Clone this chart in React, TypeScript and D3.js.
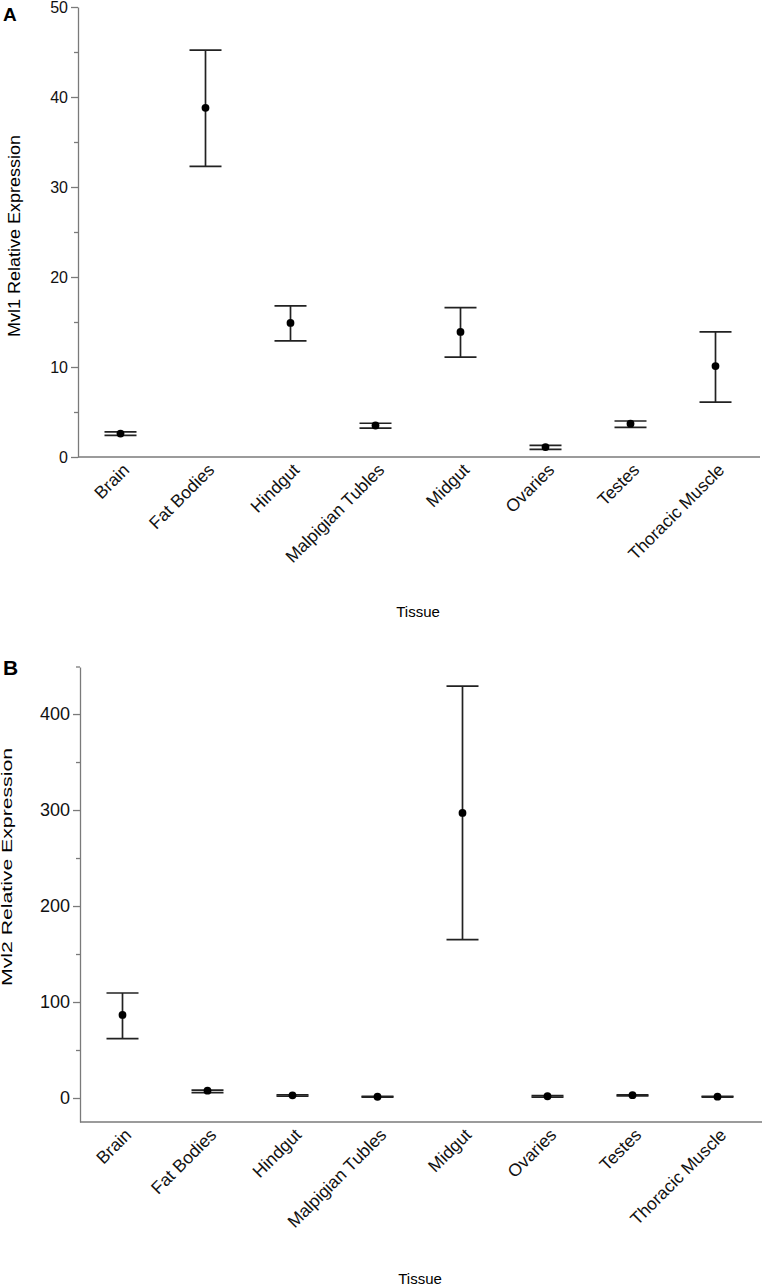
import { useEffect, useRef } from "react";
import * as d3 from "d3";

// Tissues on the x axis (same order in both panels)
const tissues = ["Brain", "Fat Bodies", "Hindgut", "Malpigian Tubles", "Midgut", "Ovaries", "Testes", "Thoracic Muscle"];

// Panel A: Mvl1 relative expression (mean and error bar ends)
const mvl1Mean = [2.6, 38.8, 14.9, 3.5, 13.9, 1.1, 3.7, 10.1];
const mvl1Low = [2.4, 32.3, 12.9, 3.2, 11.1, 0.85, 3.3, 6.1];
const mvl1High = [2.8, 45.2, 16.8, 3.75, 16.6, 1.3, 4.0, 13.9];
const mvl1Ticks = [0, 10, 20, 30, 40, 50];
const mvl1Minor = [5, 15, 25, 35, 45];

// Panel B: Mvl2 relative expression
const mvl2Mean = [86.5, 7.6, 2.8, 1.3, 297, 1.8, 2.9, 1.4];
const mvl2Low = [61.8, 5.5, 2.0, 0.9, 165, 1.0, 2.3, 1.0];
const mvl2High = [109.4, 8.3, 3.4, 1.7, 429, 2.4, 3.4, 1.8];
const mvl2Ticks = [0, 100, 200, 300, 400];
const mvl2Minor = [50, 150, 250, 350];

const FONT = "'Liberation Sans', Arial, Helvetica, sans-serif";
const AXIS = "#7a7a7a";
const INK = "#222";

function drawPanel(g, cfg) {
    const x = d3.scaleBand().domain(tissues).range([cfg.left, cfg.right]).padding(0);
    const y = d3.scaleLinear().domain(cfg.domain).range([cfg.bottom, cfg.top]);
    const cx = (t) => x(t) + x.bandwidth() / 2;

    // panel letter
    g.append("text")
        .attr("x", 3).attr("y", cfg.letterY)
        .attr("font-size", cfg.letterSize).attr("font-weight", "bold")
        .attr("font-family", FONT)
        .text(cfg.letter);

    // y axis, major ticks
    const yAxis = g.append("g")
        .attr("transform", `translate(${cfg.left},0)`)
        .call(d3.axisLeft(y).tickValues(cfg.ticks).tickSize(7).tickSizeOuter(0).tickPadding(3));
    yAxis.select(".domain").attr("stroke", AXIS).attr("stroke-width", 1.3);
    yAxis.selectAll(".tick line").attr("stroke", AXIS).attr("stroke-width", 1.3);
    yAxis.selectAll(".tick text")
        .attr("font-family", FONT).attr("font-size", cfg.tickSize).attr("fill", "#111");

    // minor ticks
    const minor = g.append("g")
        .attr("transform", `translate(${cfg.left},0)`)
        .call(d3.axisLeft(y).tickValues(cfg.minor).tickSize(4).tickFormat(() => ""));
    minor.select(".domain").remove();
    minor.selectAll(".tick line").attr("stroke", AXIS).attr("stroke-width", 1.3);

    if (cfg.outerStub) {
        g.append("line")
            .attr("x1", cfg.left - 4).attr("x2", cfg.left)
            .attr("y1", y.range()[1]).attr("y2", y.range()[1])
            .attr("stroke", AXIS).attr("stroke-width", 1.3);
    }

    // x axis line
    g.append("line")
        .attr("x1", cfg.left).attr("x2", cfg.right + 2)
        .attr("y1", cfg.bottom).attr("y2", cfg.bottom)
        .attr("stroke", AXIS).attr("stroke-width", 1.5);

    // category labels
    g.selectAll("text.cat")
        .data(tissues)
        .join("text")
        .attr("class", "cat")
        .attr("transform", (t) => `translate(${cx(t) + 10},${cfg.bottom + 14}) rotate(-45)`)
        .attr("text-anchor", "end")
        .attr("font-family", FONT).attr("font-size", cfg.catSize).attr("fill", "#111")
        .text((t) => t);

    // error bars
    const rows = tissues.map((t, i) => ({ t, mean: cfg.mean[i], low: cfg.low[i], high: cfg.high[i] }));
    const bars = g.selectAll("g.bar").data(rows).join("g").attr("class", "bar");
    bars.append("line")
        .attr("x1", (d) => cx(d.t)).attr("x2", (d) => cx(d.t))
        .attr("y1", (d) => y(d.low)).attr("y2", (d) => y(d.high))
        .attr("stroke", INK).attr("stroke-width", 1.7);
    ["low", "high"].forEach((k) => {
        bars.append("line")
            .attr("x1", (d) => cx(d.t) - 16).attr("x2", (d) => cx(d.t) + 16)
            .attr("y1", (d) => y(d[k])).attr("y2", (d) => y(d[k]))
            .attr("stroke", INK).attr("stroke-width", 1.7);
    });
    bars.append("circle")
        .attr("cx", (d) => cx(d.t)).attr("cy", (d) => y(d.mean))
        .attr("r", 3.9).attr("fill", "#000");

    // axis titles
    g.append("text")
        .attr("x", (cfg.left + cfg.right) / 2).attr("y", cfg.xTitleY)
        .attr("text-anchor", "middle")
        .attr("font-family", FONT).attr("font-size", 15)
        .text("Tissue");

    g.append("text")
        .attr("transform", `translate(${cfg.yTitleX},${cfg.yTitleY}) rotate(-90)`)
        .attr("text-anchor", "middle")
        .attr("font-family", FONT).attr("font-size", cfg.yTitleSize)
        .attr("textLength", cfg.yTitleLen).attr("lengthAdjust", "spacingAndGlyphs")
        .text(cfg.yTitle);
}

export default function App() {
    const svgRef = useRef(null);

    useEffect(() => {
        const svg = d3.select(svgRef.current);
        svg.selectAll("*").remove();

        drawPanel(svg.append("g"), {
            letter: "A", letterY: 21, letterSize: 19,
            domain: [0, 50], ticks: mvl1Ticks, minor: mvl1Minor,
            mean: mvl1Mean, low: mvl1Low, high: mvl1High,
            left: 78, right: 758, top: 7, bottom: 457,
            tickSize: 16, catSize: 17.5, outerStub: false,
            xTitleY: 617,
            yTitle: "Mvl1 Relative Expression", yTitleX: 19.5, yTitleY: 236, yTitleSize: 16, yTitleLen: 202,
        });

        drawPanel(svg.append("g"), {
            letter: "B", letterY: 675, letterSize: 21,
            domain: [-25, 449], ticks: mvl2Ticks, minor: mvl2Minor,
            mean: mvl2Mean, low: mvl2Low, high: mvl2High,
            left: 80, right: 760, top: 667, bottom: 1122,
            tickSize: 18, catSize: 17.5, outerStub: true,
            xTitleY: 1284,
            yTitle: "Mvl2 Relative Expression", yTitleX: 12, yTitleY: 867, yTitleSize: 14.5, yTitleLen: 238,
        });
    }, []);

    return (
        <svg
            ref={svgRef}
            width={762}
            height={1286}
            style={{ position: "absolute", left: 0, top: 0, background: "#fff" }}
        />
    );
}
